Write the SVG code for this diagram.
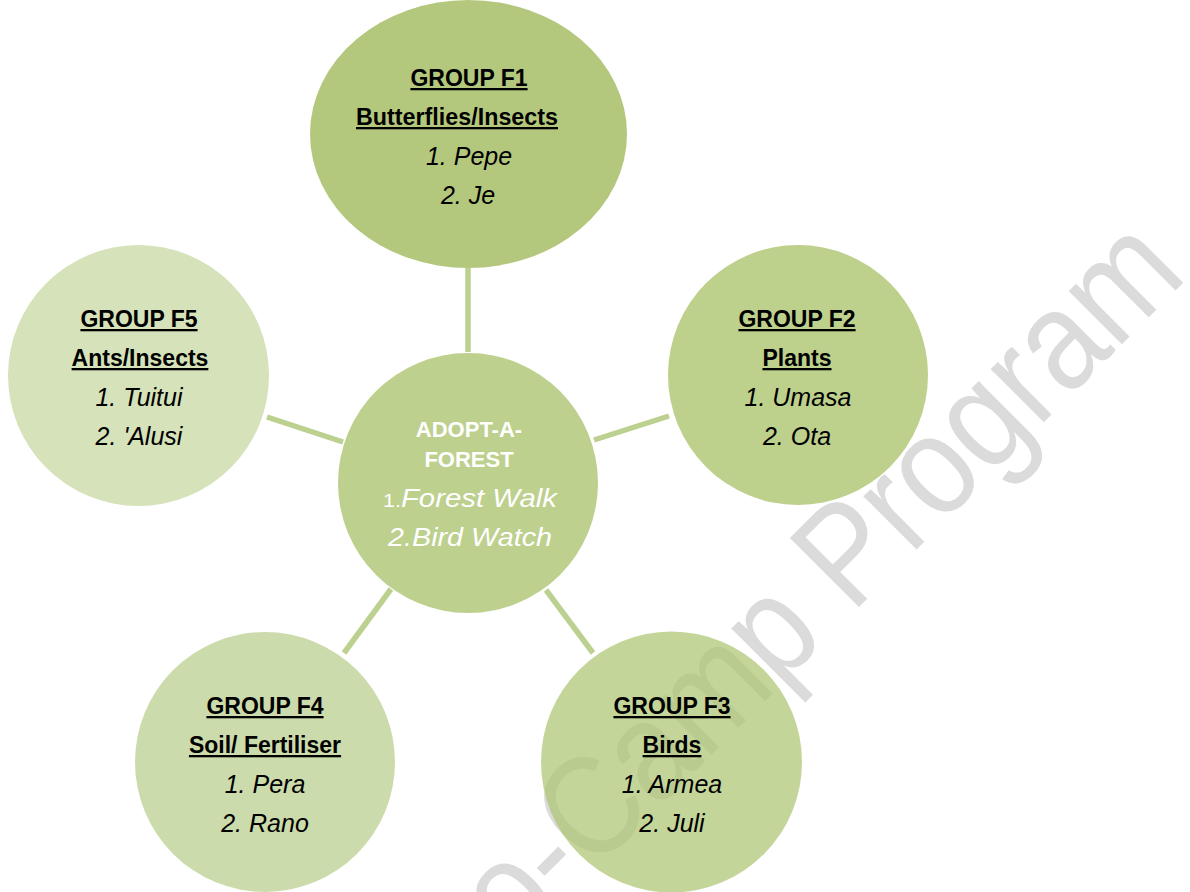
<svg xmlns="http://www.w3.org/2000/svg" width="1190" height="892" viewBox="0 0 1190 892">
<style>
.h{font-family:"Liberation Sans",Arial,sans-serif;font-weight:bold;font-size:23px;text-decoration:underline;text-anchor:middle;fill:#000}
.n{font-family:"Liberation Sans",Arial,sans-serif;font-style:italic;font-size:25px;text-anchor:middle;fill:#000}
.c{font-family:"Liberation Sans",Arial,sans-serif;font-weight:bold;font-size:22px;text-anchor:middle;fill:#fff}
.ci{font-family:"Liberation Sans",Arial,sans-serif;font-style:italic;font-size:26px;text-anchor:middle;fill:#fff}
.conn line{stroke:#bcd08f;stroke-width:5.5;stroke-linecap:butt}
.wm{font-family:"Liberation Sans",Arial,sans-serif;font-size:142px;fill:#dbdbdb}
</style>
<rect width="1190" height="892" fill="#fff"/>
<g id="connectors" class="conn">
<line x1="468" y1="268" x2="468" y2="352"/>
<line x1="594" y1="440" x2="669" y2="416"/>
<line x1="546" y1="590" x2="593" y2="653"/>
<line x1="391" y1="589" x2="344" y2="653"/>
<line x1="267" y1="417" x2="343" y2="442"/>
</g>
<g id="F1">
<ellipse cx="468.5" cy="134" rx="158.5" ry="134" fill="#b4c87d"/>
<text class="h" x="469" y="86">GROUP F1</text>
<text class="h" x="457" y="125" textLength="202" lengthAdjust="spacingAndGlyphs">Butterflies/Insects</text>
<text class="n" x="469" y="165">1. Pepe</text>
<text class="n" x="468" y="204">2. Je</text>
</g>
<g id="F2">
<circle cx="798" cy="375" r="130" fill="#bdd08c"/>
<text class="h" x="797" y="327">GROUP F2</text>
<text class="h" x="797" y="366">Plants</text>
<text class="n" x="798" y="406">1. Umasa</text>
<text class="n" x="797" y="445">2. Ota</text>
</g>
<g id="F4">
<circle cx="265" cy="762" r="130" fill="#ccdbab"/>
<text class="h" x="265" y="714">GROUP F4</text>
<text class="h" x="265" y="753">Soil/ Fertiliser</text>
<text class="n" x="265" y="793">1. Pera</text>
<text class="n" x="265" y="832">2. Rano</text>
</g>
<g id="F5">
<circle cx="138.5" cy="375.5" r="130.5" fill="#d6e2b9"/>
<text class="h" x="139" y="327">GROUP F5</text>
<text class="h" x="140" y="366">Ants/Insects</text>
<text class="n" x="139" y="406">1. Tuitui</text>
<text class="n" x="139" y="445">2. 'Alusi</text>
</g>
<g id="center">
<circle cx="468" cy="483" r="130" fill="#bdd08e"/>
<text class="c" x="469" y="437">ADOPT-A-</text>
<text class="c" x="469" y="467">FOREST</text>
<text class="ci" x="470" y="507" textLength="174" lengthAdjust="spacingAndGlyphs"><tspan style="font-style:normal;font-size:19px">1.</tspan>Forest Walk</text>
<text class="ci" x="470" y="546" textLength="164" lengthAdjust="spacingAndGlyphs">2.Bird Watch</text>
</g>
<g id="watermark">
<text class="wm" x="0" y="0" transform="translate(412,1054) rotate(-45)" textLength="1099" lengthAdjust="spacingAndGlyphs">Eco-Camp Program</text>
</g>
<g id="F3">
<circle cx="671.5" cy="762" r="130.5" fill="#adc573" fill-opacity="0.72"/>
<text class="h" x="672" y="714">GROUP F3</text>
<text class="h" x="672" y="753">Birds</text>
<text class="n" x="672" y="793">1. Armea</text>
<text class="n" x="672" y="832">2. Juli</text>
</g>
</svg>
